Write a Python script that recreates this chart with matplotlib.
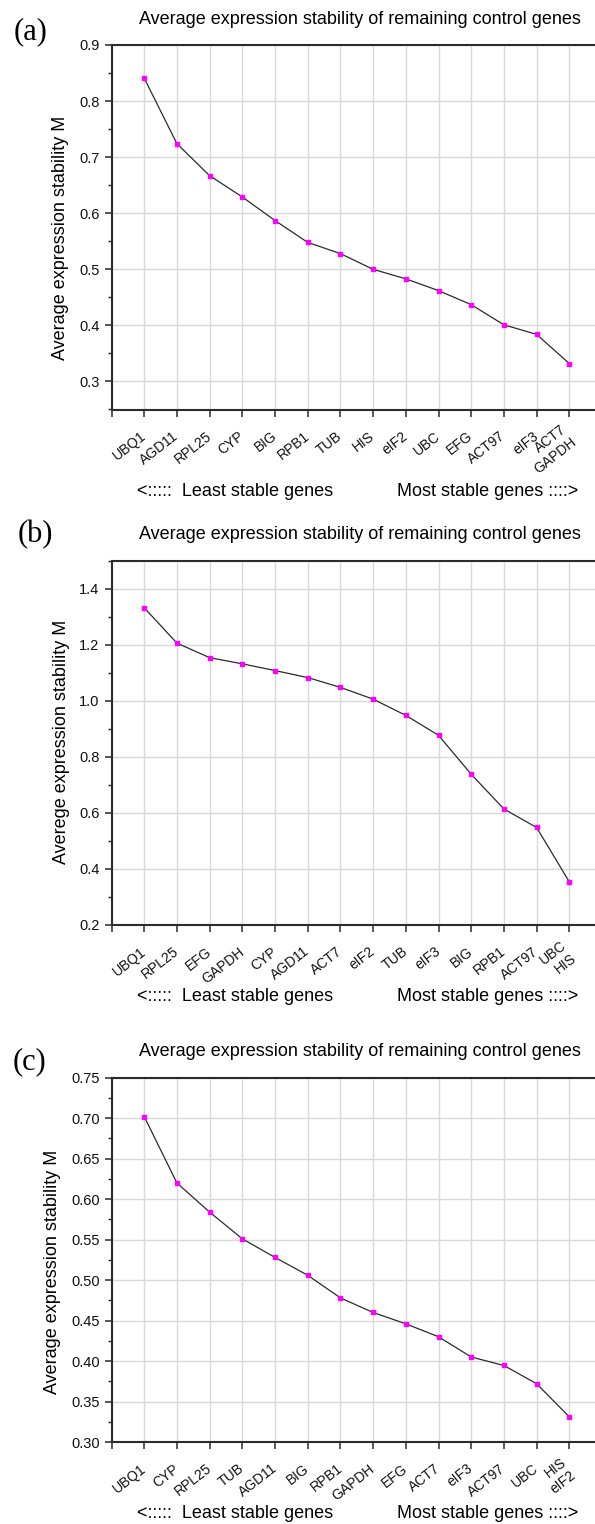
import matplotlib.pyplot as plt
import numpy as np

# panel (a)
genes_a = ['UBQ1', 'AGD11', 'RPL25', 'CYP', 'BIG', 'RPB1', 'TUB', 'HIS', 'eIF2',
           'UBC', 'EFG', 'ACT97', 'eIF3', 'ACT7\nGAPDH']
m_a = [0.841, 0.724, 0.667, 0.629, 0.587, 0.548, 0.528, 0.500, 0.483,
       0.462, 0.437, 0.401, 0.384, 0.332]

# panel (b)
genes_b = ['UBQ1', 'RPL25', 'EFG', 'GAPDH', 'CYP', 'AGD11', 'ACT7', 'eIF2', 'TUB',
           'eIF3', 'BIG', 'RPB1', 'ACT97', 'UBC\nHIS']
m_b = [1.332, 1.206, 1.154, 1.132, 1.108, 1.083, 1.048, 1.006, 0.948,
       0.877, 0.738, 0.614, 0.548, 0.354]

# panel (c)
genes_c = ['UBQ1', 'CYP', 'RPL25', 'TUB', 'AGD11', 'BIG', 'RPB1', 'GAPDH', 'EFG',
           'ACT7', 'eIF3', 'ACT97', 'UBC', 'HIS\neIF2']
m_c = [0.702, 0.620, 0.584, 0.551, 0.528, 0.506, 0.478, 0.460, 0.446,
       0.430, 0.405, 0.3945, 0.372, 0.331]

title = 'Average expression stability of remaining control genes'

panels = [
    ('(a)', genes_a, m_a, (0.25, 0.9), 0.3, 0.1, 'Average expression stability M', '%.1f'),
    ('(b)', genes_b, m_b, (0.2, 1.5), 0.2, 0.2, 'Averege expression stability M', '%.1f'),
    ('(c)', genes_c, m_c, (0.30, 0.75), 0.30, 0.05, 'Average expression stability M', '%.2f'),
]

W, H = 595, 1524
fig = plt.figure(figsize=(W / 100, H / 100), dpi=100)
plt.rcParams['font.family'] = ['Liberation Sans', 'DejaVu Sans']

# pixel layout
frames = [(45, 409.5), (560.7, 925), (1077.7, 1442)]
tag_x = [14, 17.8, 12.5]
tag_y = [32, 535, 1062]
title_y = [19, 534.3, 1051.7]
stable_y = [491, 996.7, 1513.3]
ylab_x = [60.7, 61, 53]
ylab_y = [237.5, 742, 1272]

x0 = 111.5
unit = 32.7
nx = 15
dark = '#2b2b2b'

for i, (tag, genes, vals, ylim, y_first, step, ylab, fmt) in enumerate(panels):
    top, bot = frames[i]
    ax = fig.add_axes([x0 / W, 1 - bot / H, nx * unit / W, (bot - top) / H])
    x = np.arange(1, len(genes) + 1)
    ax.plot(x, vals, color=dark, lw=0.9, zorder=3)
    ax.plot(x, vals, ls='none', marker='s', ms=3.4, mfc='#ff00ff', mec='#ff00ff', zorder=4)

    ax.set_xticks(np.arange(0, nx + 1))
    ax.set_xticklabels([''] + genes + [''] * (nx - len(genes)),
                       rotation=38, ha='right', va='center', rotation_mode='anchor',
                       fontsize=10)
    yt = np.arange(y_first, ylim[1] + 1e-9, step)
    ax.set_yticks(yt)
    ax.set_yticklabels([fmt % v for v in yt], fontsize=10.5)
    ax.set_yticks(np.arange(yt[0] - step / 2, ylim[1] + 1e-9, step / 2), minor=True)
    ax.set_xlim(0, nx)
    ax.set_ylim(*ylim)
    ax.tick_params(axis='both', which='major', direction='out', length=5, width=1.1,
                   color=dark, labelcolor='#111111')
    ax.tick_params(axis='y', which='major', pad=3.6)
    ax.tick_params(axis='x', which='major', pad=13)
    ax.tick_params(axis='y', which='minor', direction='out', length=2.8, width=1.0, color=dark)
    ax.grid(True, which='major', color='#d9d9d9', lw=1.0, zorder=0)
    for s in ['left', 'bottom', 'top']:
        ax.spines[s].set_linewidth(1.5)
        ax.spines[s].set_color(dark)
    ax.spines['right'].set_visible(False)

    fig.text(tag_x[i] / W, 1 - tag_y[i] / H, tag, fontfamily='Liberation Serif',
             fontsize=22, ha='left', va='center')
    fig.text(360 / W, 1 - title_y[i] / H, title, fontsize=13, ha='center', va='center')
    fig.text(ylab_x[i] / W, 1 - ylab_y[i] / H, ylab, rotation=90,
             fontsize=13, ha='center', va='center')
    fig.text(136.6 / W, 1 - stable_y[i] / H, '<:::::  Least stable genes', fontsize=13,
             ha='left', va='center')
    fig.text(578.7 / W, 1 - stable_y[i] / H, 'Most stable genes ::::>', fontsize=13,
             ha='right', va='center')

fig.savefig('out.png', dpi=100)
